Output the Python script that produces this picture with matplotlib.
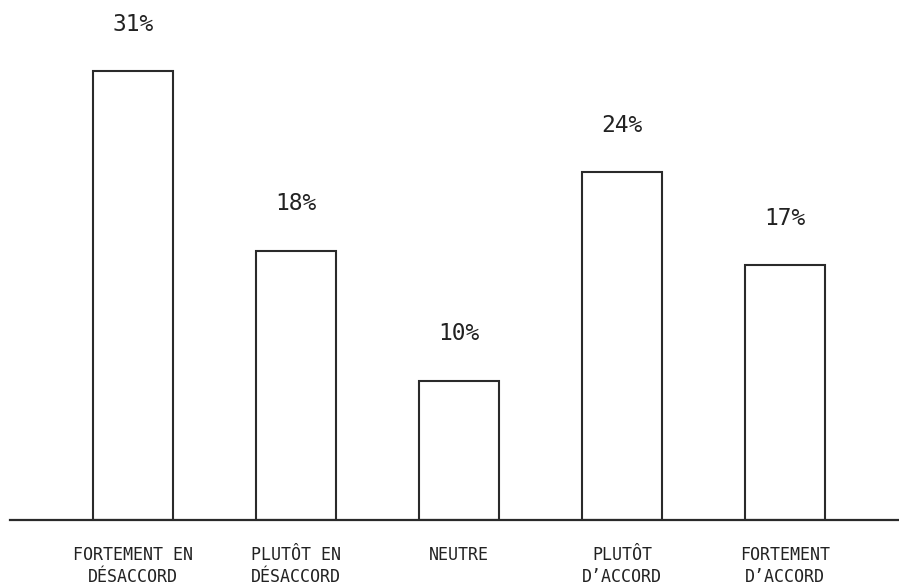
import matplotlib
matplotlib.use("Agg")
import matplotlib.pyplot as plt

categories = ["FORTEMENT EN\nDÉSACCORD", "PLUTÔT EN\nDÉSACCORD", "NEUTRE",
              "PLUTÔT\nD\u2019ACCORD", "FORTEMENT\nD\u2019ACCORD"]
values = [31.0, 18.6, 9.6, 24.0, 17.6]
value_labels = ["31%", "18%", "10%", "24%", "17%"]

DPI = 100
fig = plt.figure(figsize=(8.99, 5.84), dpi=DPI)
ax = fig.add_axes([10 / 899, 64 / 584, 889 / 899, 520 / 584])

edge = "#2a2a2a"
x = list(range(len(values)))
ax.bar(x, values, width=80 / 163, facecolor="white", edgecolor=edge,
       linewidth=1.5, zorder=2)

ax.set_xlim((10 - 133) / 163, (899 - 133) / 163)
ax.set_ylim(0, 520 / 14.48)

for s in ["top", "left", "right"]:
    ax.spines[s].set_visible(False)
ax.spines["bottom"].set_color(edge)
ax.spines["bottom"].set_linewidth(1.6)
ax.set_xticks([])
ax.set_yticks([])

px = 72 / DPI
for xi, v, lab in zip(x, values, value_labels):
    ax.annotate(lab, xy=(xi, v), xytext=(0, 47 * px), textcoords="offset points",
                ha="center", va="center", fontsize=16.5,
                family="DejaVu Sans Mono", color="#222222")

for xi, cat in zip(x, categories):
    ax.annotate(cat, xy=(xi, 0), xycoords=("data", "axes fraction"),
                xytext=(0, -26 * px), textcoords="offset points",
                ha="center", va="top", fontsize=12, linespacing=1.25,
                family="DejaVu Sans Mono", color="#222222")

fig.savefig("out.png", dpi=DPI)
